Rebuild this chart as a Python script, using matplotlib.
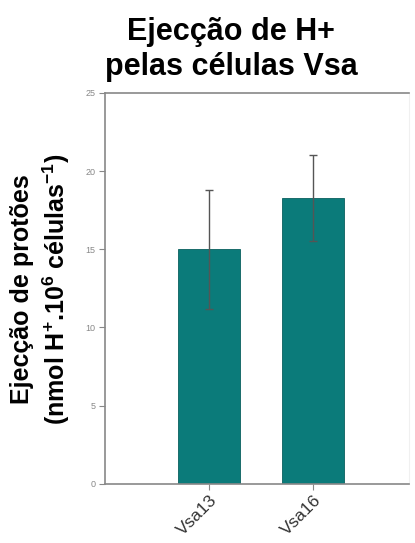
import matplotlib.pyplot as plt

plt.rcParams['font.family'] = ['Liberation Sans', 'DejaVu Sans']
plt.rcParams['mathtext.default'] = 'regular'

# data
strains = ['Vsa13', 'Vsa16']
ejection = [15.0, 18.3]
ejection_err = [3.8, 2.75]
yticks = [0, 5, 10, 15, 20, 25]

fig = plt.figure(figsize=(4.15, 5.43), dpi=100)
ax = fig.add_axes([0.253, 0.109, 0.732, 0.720])

x = range(len(strains))
ax.bar(x, ejection, width=0.6, color='#0b7b7a', edgecolor='#0a5f5e', linewidth=0.6,
       zorder=2)
ax.errorbar(x, ejection, yerr=ejection_err, fmt='none', ecolor='#555555',
            elinewidth=1.0, capsize=3, capthick=1.0, zorder=3)

ax.set_xlim(-1.0, 1.92)
ax.set_ylim(0, 25)
ax.set_yticks(yticks)
ax.set_yticklabels([str(t) for t in yticks], fontsize=6.5, color='#888888')
ax.set_xticks(list(x))
ax.set_xticklabels(strains, rotation=45, ha='right', rotation_mode='anchor',
                   fontsize=12.5, color='#333333')
ax.tick_params(axis='y', direction='out', length=4, color='#888888', width=0.8, pad=3)
ax.tick_params(axis='x', direction='out', length=4, color='#888888', width=0.8, pad=2)

for side in ['left', 'top', 'bottom']:
    ax.spines[side].set_color('#888888')
    ax.spines[side].set_linewidth(1.2)
ax.spines['right'].set_color('#f0f0f0')
ax.spines['right'].set_linewidth(0.8)

fig.text(0.099, 0.468, 'Ejecção de protões\n(nmol H$^{+}$.10$^{6}$ células$^{-1}$)',
         rotation=90, ha='center', va='center', fontsize=18, fontweight='bold',
         linespacing=1.25)

fig.text(0.557, 0.909, 'Ejecção de H+\npelas células Vsa', ha='center', va='center',
         fontsize=22, fontweight='bold', linespacing=1.2)

fig.savefig('out.png', dpi=100)
